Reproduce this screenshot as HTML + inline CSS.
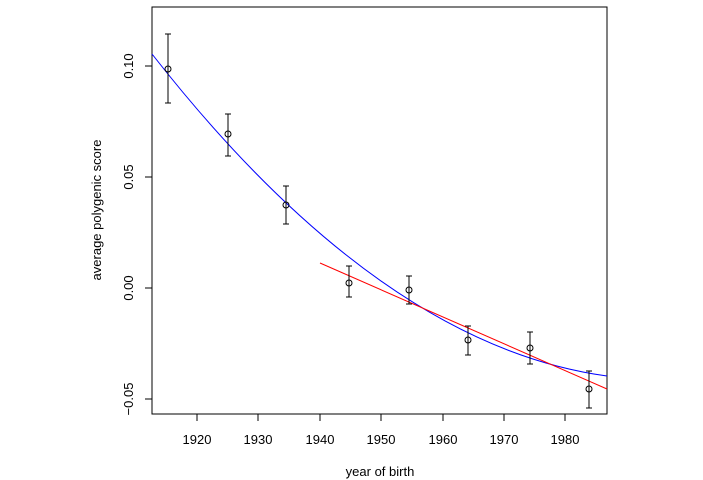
<!DOCTYPE html>
<html><head><style>body{margin:0;background:#fff}svg{display:block}</style></head><body>
<svg width="703" height="480" xmlns="http://www.w3.org/2000/svg" font-family="Liberation Sans, Arial, sans-serif" font-size="13">
<rect x="152" y="7" width="455" height="407" fill="none" stroke="#000" stroke-width="1"/>
<g stroke="#000">
<line x1="197" y1="414" x2="197" y2="421"/><line x1="258" y1="414" x2="258" y2="421"/><line x1="320" y1="414" x2="320" y2="421"/><line x1="381" y1="414" x2="381" y2="421"/><line x1="443" y1="414" x2="443" y2="421"/><line x1="504" y1="414" x2="504" y2="421"/><line x1="565" y1="414" x2="565" y2="421"/>
<line x1="145" y1="66" x2="152" y2="66"/><line x1="145" y1="177" x2="152" y2="177"/><line x1="145" y1="288" x2="152" y2="288"/><line x1="145" y1="399" x2="152" y2="399"/>
</g>
<g text-anchor="middle" fill="#000">
<text x="197" y="444">1920</text><text x="258" y="444">1930</text><text x="320" y="444">1940</text><text x="381" y="444">1950</text><text x="443" y="444">1960</text><text x="504" y="444">1970</text><text x="565" y="444">1980</text>
<text x="380" y="476">year of birth</text>
<text transform="translate(133,66) rotate(-90)">0.10</text>
<text transform="translate(133,177) rotate(-90)">0.05</text>
<text transform="translate(133,288) rotate(-90)">0.00</text>
<text transform="translate(133,399) rotate(-90)">−0.05</text>
<text transform="translate(101,210) rotate(-90)">average polygenic score</text>
</g>
<path d="M152,54 Q379.5,344.9 607,376" fill="none" stroke="#0000ff"/>
<line x1="320" y1="263" x2="607" y2="389" stroke="#ff0000"/>
<g stroke="#000" fill="none">
<path d="M168,34V103M165,34h6M165,103h6"/>
<path d="M228,114V156M225,114h6M225,156h6"/>
<path d="M286,186V224M283,186h6M283,224h6"/>
<path d="M349,266V297M346,266h6M346,297h6"/>
<path d="M409,276V304M406,276h6M406,304h6"/>
<path d="M468,326V355M465,326h6M465,355h6"/>
<path d="M530,332V364M527,332h6M527,364h6"/>
<path d="M589,371V408M586,371h6M586,408h6"/>
<circle cx="168" cy="69" r="3"/><circle cx="228" cy="134" r="3"/><circle cx="286" cy="205" r="3"/><circle cx="349" cy="283" r="3"/><circle cx="409" cy="290" r="3"/><circle cx="468" cy="340" r="3"/><circle cx="530" cy="348" r="3"/><circle cx="589" cy="389" r="3"/>
</g>
</svg>
</body></html>
